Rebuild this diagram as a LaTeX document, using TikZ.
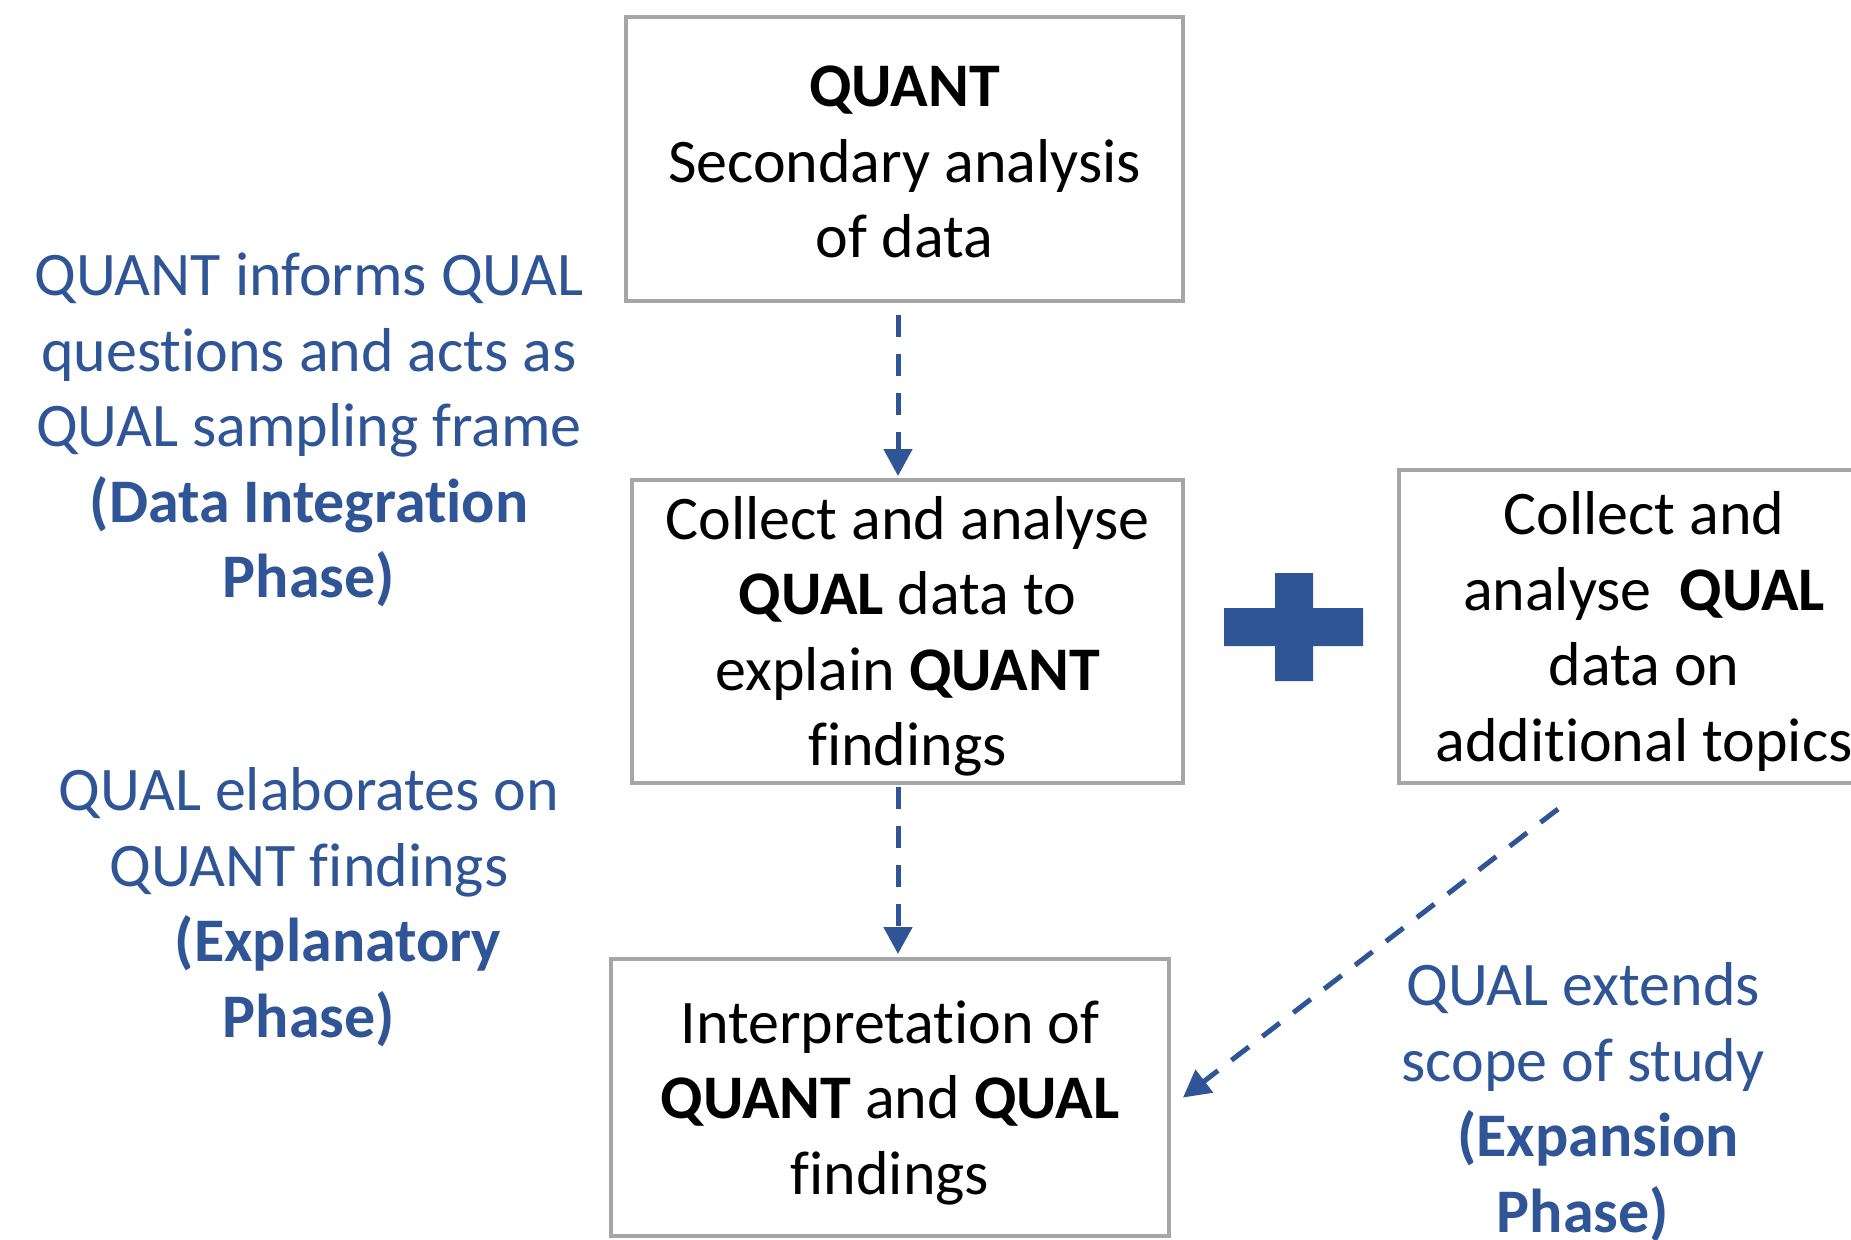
\documentclass[tikz,border=0pt]{standalone}
\usepackage{fontspec}
\setmainfont{Carlito}[Ligatures=NoCommon]
\usetikzlibrary{arrows.meta}
\definecolor{qblue}{HTML}{2F5597}
\definecolor{qgray}{HTML}{A6A6A6}
\tikzset{
  box/.style={draw=qgray, line width=2pt, fill=white, inner sep=0pt},
  boxtext/.style={align=center, inner sep=0pt, text=black, font=\fontsize{31pt}{37.75pt}\selectfont},
  note/.style={align=center, inner sep=0pt, text=qblue, font=\fontsize{31pt}{37.75pt}\selectfont},
  arr/.style={draw=qblue, line width=2.5pt, dash pattern=on 11pt off 8.5pt,
    -{Triangle[length=13.5pt,width=14pt]}}
}
\begin{document}
\begin{tikzpicture}[x=0.5pt,y=-0.5pt]
\useasboundingbox (0,0) rectangle (1851,1239);
\clip (0,0) rectangle (1851,1239);
\node[box, minimum width=278.5pt, minimum height=142pt] (b1) at (904.5,159) {};
\node[boxtext] (t1) at ([yshift=-1.5pt]b1.center)
  {\textbf{QUANT}\\Secondary analysis\\of data};
\node[box, minimum width=275.5pt, minimum height=151.5pt] (b2) at (907.5,631.5) {};
\node[boxtext] (t2) at ([yshift=-2.5pt]b2.center)
  {Collect and analyse\\\textbf{QUAL} data to\\explain \textbf{QUANT}\\findings};
\node[box, minimum width=245pt, minimum height=156.5pt] (b3) at (1644,626.5) {};
\node[boxtext] (t3) at ([yshift=-2.5pt]b3.center)
  {Collect and\\analyse\ \ \textbf{QUAL}\\data on\\additional topics};
\node[box, minimum width=279pt, minimum height=138.5pt] (b4) at (890,1097.5) {};
\node[boxtext] (t4) at ([yshift=-2.5pt]b4.center)
  {Interpretation of\\\textbf{QUANT} and \textbf{QUAL}\\findings};
\node[note] (n1) at (309,430)
  {QUANT informs QUAL\\questions and acts as\\QUAL sampling frame\\\textbf{(Data Integration}\\\textbf{Phase)}};
\node[note] (n2) at (309,907)
  {QUAL elaborates on\\QUANT findings\\\hspace*{29pt}\textbf{(Explanatory}\\\textbf{Phase)}};
\node[note] (n3) at (1583,1102)
  {QUAL extends\\scope of study\\\hspace*{15pt}\textbf{(Expansion}\\\textbf{Phase)}};
\fill[qblue] (1275,573) -- (1313,573) -- (1313,608) -- (1363,608) -- (1363,646) -- (1313,646)
  -- (1313,681) -- (1275,681) -- (1275,646) -- (1224,646) -- (1224,608) -- (1275,608) -- cycle;
\coordinate (ax) at (898,0);
\draw[arr] ([yshift=-6pt]b1.south -| ax) -- ([yshift=1pt]b2.north -| ax);
\draw[arr] ([yshift=-1pt]b2.south -| ax) -- ([yshift=1.5pt]b4.north -| ax);
\draw[arr] ([xshift=-43pt,yshift=-12pt]b3.south) -- ([xshift=6pt]b4.east);
\end{tikzpicture}
\end{document}
